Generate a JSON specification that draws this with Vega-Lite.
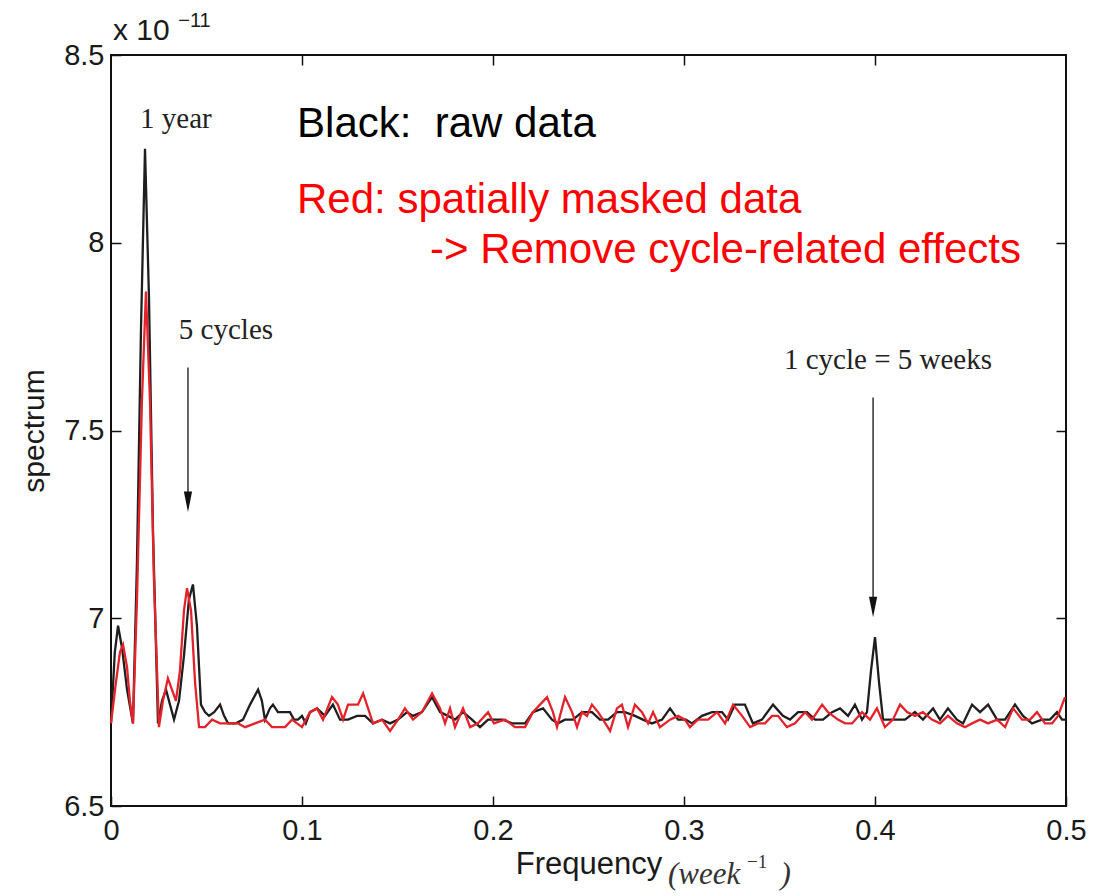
{
  "$schema": "https://vega.github.io/schema/vega-lite/v6.json",
  "width": 955,
  "height": 751,
  "autosize": {"type": "none"},
  "padding": {"left": 111, "top": 55, "right": 42, "bottom": 90},
  "background": "white",
  "config": {
    "view": {"stroke": "#111111", "strokeWidth": 2},
    "axis": {
      "grid": false,
      "domain": false,
      "tickColor": "#111111",
      "tickWidth": 1.5,
      "tickSize": -10,
      "labelFont": "Liberation Sans",
      "labelFontSize": 29,
      "labelColor": "#1a1a1a",
      "labelFlush": false,
      "labelOverlap": false,
      "titleFont": "Liberation Sans",
      "titleFontWeight": "normal",
      "titleColor": "#1a1a1a"
    }
  },
  "datasets": {
    "raw": [
      {"f":0,"s":6.72},{"f":0.002,"s":6.91},{"f":0.0037,"s":6.98},{"f":0.0058,"s":6.92},{"f":0.0084,"s":6.81},{"f":0.0115,"s":6.72},{"f":0.0136,"s":7.15},{"f":0.0157,"s":7.77},{"f":0.0178,"s":8.25},{"f":0.0199,"s":7.85},{"f":0.022,"s":7.23},{"f":0.0246,"s":6.72},{"f":0.0267,"s":6.78},{"f":0.0288,"s":6.81},{"f":0.0309,"s":6.77},{"f":0.033,"s":6.73},{"f":0.0356,"s":6.78},{"f":0.0382,"s":6.9},{"f":0.0408,"s":7.05},{"f":0.0429,"s":7.09},{"f":0.045,"s":6.98},{"f":0.0471,"s":6.77},{"f":0.0492,"s":6.75},{"f":0.0513,"s":6.74},{"f":0.054,"s":6.75},{"f":0.0571,"s":6.77},{"f":0.0592,"s":6.74},{"f":0.0613,"s":6.72},{"f":0.0654,"s":6.72},{"f":0.0691,"s":6.73},{"f":0.0728,"s":6.77},{"f":0.0749,"s":6.79},{"f":0.077,"s":6.81},{"f":0.079,"s":6.78},{"f":0.0806,"s":6.73},{"f":0.0832,"s":6.76},{"f":0.0848,"s":6.77},{"f":0.0874,"s":6.75},{"f":0.0906,"s":6.75},{"f":0.0937,"s":6.75},{"f":0.0958,"s":6.73},{"f":0.0979,"s":6.73},{"f":0.1,"s":6.74},{"f":0.102,"s":6.72},{"f":0.1042,"s":6.75},{"f":0.1079,"s":6.76},{"f":0.112,"s":6.74},{"f":0.1162,"s":6.77},{"f":0.1199,"s":6.73},{"f":0.1241,"s":6.73},{"f":0.1288,"s":6.74},{"f":0.133,"s":6.74},{"f":0.1372,"s":6.72},{"f":0.1419,"s":6.73},{"f":0.1461,"s":6.72},{"f":0.1503,"s":6.73},{"f":0.155,"s":6.75},{"f":0.1581,"s":6.74},{"f":0.1628,"s":6.75},{"f":0.1681,"s":6.79},{"f":0.1723,"s":6.75},{"f":0.1764,"s":6.74},{"f":0.1801,"s":6.73},{"f":0.1843,"s":6.75},{"f":0.189,"s":6.73},{"f":0.1932,"s":6.71},{"f":0.1974,"s":6.73},{"f":0.201,"s":6.73},{"f":0.2052,"s":6.73},{"f":0.21,"s":6.72},{"f":0.2168,"s":6.72},{"f":0.2209,"s":6.75},{"f":0.2262,"s":6.76},{"f":0.2309,"s":6.73},{"f":0.234,"s":6.72},{"f":0.2377,"s":6.73},{"f":0.2419,"s":6.73},{"f":0.2466,"s":6.75},{"f":0.2518,"s":6.75},{"f":0.256,"s":6.73},{"f":0.2602,"s":6.73},{"f":0.2649,"s":6.75},{"f":0.2691,"s":6.75},{"f":0.2743,"s":6.74},{"f":0.2785,"s":6.73},{"f":0.2832,"s":6.72},{"f":0.2885,"s":6.73},{"f":0.2927,"s":6.76},{"f":0.2969,"s":6.73},{"f":0.301,"s":6.73},{"f":0.3042,"s":6.72},{"f":0.3094,"s":6.74},{"f":0.3147,"s":6.75},{"f":0.3199,"s":6.75},{"f":0.323,"s":6.73},{"f":0.3267,"s":6.77},{"f":0.3319,"s":6.77},{"f":0.3361,"s":6.72},{"f":0.3408,"s":6.73},{"f":0.3466,"s":6.77},{"f":0.3518,"s":6.74},{"f":0.3555,"s":6.73},{"f":0.3597,"s":6.75},{"f":0.3644,"s":6.75},{"f":0.3686,"s":6.73},{"f":0.3728,"s":6.73},{"f":0.3775,"s":6.75},{"f":0.3817,"s":6.76},{"f":0.3859,"s":6.74},{"f":0.3895,"s":6.77},{"f":0.3932,"s":6.73},{"f":0.3958,"s":6.75},{"f":0.3979,"s":6.86},{"f":0.4,"s":6.95},{"f":0.4021,"s":6.83},{"f":0.4042,"s":6.73},{"f":0.4105,"s":6.73},{"f":0.4157,"s":6.73},{"f":0.4209,"s":6.75},{"f":0.4251,"s":6.73},{"f":0.4304,"s":6.76},{"f":0.434,"s":6.73},{"f":0.4382,"s":6.76},{"f":0.4429,"s":6.73},{"f":0.4461,"s":6.72},{"f":0.4508,"s":6.77},{"f":0.455,"s":6.75},{"f":0.4592,"s":6.77},{"f":0.4639,"s":6.73},{"f":0.4681,"s":6.73},{"f":0.4733,"s":6.77},{"f":0.4775,"s":6.74},{"f":0.4822,"s":6.72},{"f":0.4874,"s":6.73},{"f":0.4916,"s":6.73},{"f":0.4953,"s":6.75},{"f":0.4979,"s":6.73},{"f":0.5,"s":6.73}
    ],
    "masked": [
      {"f":0,"s":6.72},{"f":0.0026,"s":6.83},{"f":0.0047,"s":6.91},{"f":0.0063,"s":6.93},{"f":0.0084,"s":6.87},{"f":0.0099,"s":6.78},{"f":0.0115,"s":6.72},{"f":0.0136,"s":7.05},{"f":0.0162,"s":7.58},{"f":0.0183,"s":7.87},{"f":0.0204,"s":7.58},{"f":0.0225,"s":7.1},{"f":0.0251,"s":6.71},{"f":0.0272,"s":6.78},{"f":0.0298,"s":6.84},{"f":0.0319,"s":6.81},{"f":0.034,"s":6.78},{"f":0.0361,"s":6.86},{"f":0.0382,"s":7.02},{"f":0.0398,"s":7.08},{"f":0.0419,"s":7.02},{"f":0.044,"s":6.83},{"f":0.0461,"s":6.71},{"f":0.0492,"s":6.71},{"f":0.0529,"s":6.73},{"f":0.0571,"s":6.72},{"f":0.0623,"s":6.72},{"f":0.0665,"s":6.72},{"f":0.0702,"s":6.71},{"f":0.0754,"s":6.72},{"f":0.0806,"s":6.73},{"f":0.0843,"s":6.71},{"f":0.0911,"s":6.71},{"f":0.0948,"s":6.73},{"f":0.0974,"s":6.72},{"f":0.1,"s":6.71},{"f":0.1042,"s":6.75},{"f":0.1079,"s":6.76},{"f":0.111,"s":6.73},{"f":0.1157,"s":6.79},{"f":0.1188,"s":6.77},{"f":0.1215,"s":6.73},{"f":0.1241,"s":6.77},{"f":0.1267,"s":6.77},{"f":0.1293,"s":6.77},{"f":0.132,"s":6.8},{"f":0.1346,"s":6.76},{"f":0.1372,"s":6.72},{"f":0.1419,"s":6.73},{"f":0.1461,"s":6.7},{"f":0.1503,"s":6.73},{"f":0.1539,"s":6.76},{"f":0.1581,"s":6.73},{"f":0.1628,"s":6.75},{"f":0.1681,"s":6.8},{"f":0.1723,"s":6.76},{"f":0.1749,"s":6.72},{"f":0.1775,"s":6.76},{"f":0.1801,"s":6.71},{"f":0.1843,"s":6.76},{"f":0.188,"s":6.71},{"f":0.1921,"s":6.72},{"f":0.1974,"s":6.75},{"f":0.2005,"s":6.72},{"f":0.2063,"s":6.73},{"f":0.2115,"s":6.71},{"f":0.2168,"s":6.71},{"f":0.2209,"s":6.75},{"f":0.2246,"s":6.77},{"f":0.2283,"s":6.79},{"f":0.2314,"s":6.75},{"f":0.2335,"s":6.71},{"f":0.2377,"s":6.79},{"f":0.2414,"s":6.75},{"f":0.244,"s":6.71},{"f":0.2466,"s":6.75},{"f":0.2492,"s":6.74},{"f":0.2518,"s":6.77},{"f":0.255,"s":6.75},{"f":0.2576,"s":6.73},{"f":0.2613,"s":6.7},{"f":0.2649,"s":6.76},{"f":0.2675,"s":6.77},{"f":0.2707,"s":6.71},{"f":0.2743,"s":6.77},{"f":0.278,"s":6.75},{"f":0.2812,"s":6.72},{"f":0.2838,"s":6.75},{"f":0.2874,"s":6.71},{"f":0.2927,"s":6.73},{"f":0.2969,"s":6.74},{"f":0.3005,"s":6.73},{"f":0.3031,"s":6.71},{"f":0.3073,"s":6.73},{"f":0.3126,"s":6.73},{"f":0.3173,"s":6.75},{"f":0.3215,"s":6.72},{"f":0.3257,"s":6.77},{"f":0.3304,"s":6.74},{"f":0.3346,"s":6.71},{"f":0.3387,"s":6.72},{"f":0.3424,"s":6.72},{"f":0.3461,"s":6.74},{"f":0.3492,"s":6.74},{"f":0.3539,"s":6.71},{"f":0.3581,"s":6.72},{"f":0.3634,"s":6.75},{"f":0.367,"s":6.73},{"f":0.3723,"s":6.77},{"f":0.3754,"s":6.75},{"f":0.3806,"s":6.73},{"f":0.3843,"s":6.72},{"f":0.388,"s":6.72},{"f":0.3932,"s":6.75},{"f":0.3974,"s":6.73},{"f":0.401,"s":6.76},{"f":0.4052,"s":6.71},{"f":0.4094,"s":6.73},{"f":0.4131,"s":6.77},{"f":0.4168,"s":6.75},{"f":0.4209,"s":6.74},{"f":0.4251,"s":6.75},{"f":0.4298,"s":6.73},{"f":0.434,"s":6.72},{"f":0.4382,"s":6.74},{"f":0.4429,"s":6.72},{"f":0.4471,"s":6.71},{"f":0.4508,"s":6.72},{"f":0.455,"s":6.73},{"f":0.4592,"s":6.72},{"f":0.4639,"s":6.73},{"f":0.4681,"s":6.71},{"f":0.4723,"s":6.76},{"f":0.477,"s":6.73},{"f":0.4812,"s":6.73},{"f":0.4848,"s":6.75},{"f":0.489,"s":6.72},{"f":0.4927,"s":6.72},{"f":0.4958,"s":6.74},{"f":0.4995,"s":6.79}
    ],
    "arrows": [
      {"f":0.0403,"s":7.668,"s2":7.32},
      {"f":0.399,"s":7.588,"s2":7.05}
    ],
    "heads": [
      {"f":0.0403,"s":7.31},
      {"f":0.399,"s":7.03}
    ],
    "serif_notes": [
      {"f":0.034,"s":8.305,"label":"1 year"},
      {"f":0.0602,"s":7.745,"label":"5 cycles"},
      {"f":0.4068,"s":7.665,"label":"1 cycle = 5 weeks"}
    ],
    "black_note": [
      {"f":0.0974,"s":8.281,"label":"Black:\u00a0 raw data"}
    ],
    "red_notes": [
      {"f":0.0974,"s":8.079,"label":"Red: spatially masked data"},
      {"f":0.167,"s":7.945,"label":"-> Remove cycle-related effects"}
    ],
    "unit_main": [
      {"f":0.2916,"s":6.292,"label":"(week"},
      {"f":0.3505,"s":6.292,"label":")"}
    ],
    "unit_sup": [
      {"f":0.333,"s":6.335,"label":"−1"}
    ],
    "exp_main": [
      {"f":0.001,"s":8.54,"label":"x 10"}
    ],
    "exp_sup": [
      {"f":0.0352,"s":8.575,"label":"−11"}
    ]
  },
  "layer": [
    {
      "encoding": {
        "x": {"field": "f", "type": "quantitative",
              "scale": {"domain": [0, 0.5], "nice": false, "zero": false},
              "axis": {"orient": "bottom", "values": [0, 0.1, 0.2, 0.3, 0.4, 0.5], "format": "~g",
                       "labelPadding": 20, "title": "Frequency", "titleFontSize": 31, "titlePadding": 4}},
        "y": {"field": "s", "type": "quantitative",
              "scale": {"domain": [6.5, 8.5], "nice": false, "zero": false},
              "axis": {"orient": "left", "values": [6.5, 7, 7.5, 8, 8.5], "format": "~g",
                       "labelPadding": 17, "title": "spectrum", "titleFontSize": 30, "titlePadding": 14}}
      },
      "layer": [
        {"data": {"name": "raw"}, "mark": {"type": "line", "color": "#1e1e1e", "strokeWidth": 2.3}},
        {"data": {"name": "masked"}, "mark": {"type": "line", "color": "#e3232b", "strokeWidth": 2.3}}
      ]
    },
    {
      "encoding": {
        "x": {"field": "f", "type": "quantitative",
              "scale": {"domain": [0, 0.5], "nice": false, "zero": false},
              "axis": {"orient": "top", "values": [0.1, 0.2, 0.3, 0.4], "labels": false, "title": null}},
        "y": {"field": "s", "type": "quantitative",
              "scale": {"domain": [6.5, 8.5], "nice": false, "zero": false},
              "axis": {"orient": "right", "values": [7, 7.5, 8], "labels": false, "title": null}}
      },
      "layer": [
        {"data": {"name": "arrows"}, "mark": {"type": "rule", "color": "#333333", "strokeWidth": 1.5},
         "encoding": {"y2": {"field": "s2"}}},
        {"data": {"name": "heads"}, "mark": {"type": "point", "shape": "M-0.4,-1L0.4,-1L0,1Z", "filled": true, "color": "#111111", "size": 420, "opacity": 1}},
        {"data": {"name": "serif_notes"}, "mark": {"type": "text", "font": "Liberation Serif", "fontSize": 29, "color": "#222222", "align": "center", "baseline": "alphabetic"},
         "encoding": {"text": {"field": "label"}}},
        {"data": {"name": "black_note"}, "mark": {"type": "text", "font": "Liberation Sans", "fontSize": 42, "color": "#000000", "align": "left", "baseline": "alphabetic"},
         "encoding": {"text": {"field": "label"}}},
        {"data": {"name": "red_notes"}, "mark": {"type": "text", "font": "Liberation Sans", "fontSize": 42, "color": "#ff0000", "align": "left", "baseline": "alphabetic"},
         "encoding": {"text": {"field": "label"}}},
        {"data": {"name": "unit_main"}, "mark": {"type": "text", "font": "Liberation Serif", "fontStyle": "italic", "fontSize": 31, "color": "#333333", "align": "left", "baseline": "alphabetic"},
         "encoding": {"text": {"field": "label"}}},
        {"data": {"name": "unit_sup"}, "mark": {"type": "text", "font": "Liberation Serif", "fontSize": 19, "color": "#333333", "align": "left", "baseline": "alphabetic"},
         "encoding": {"text": {"field": "label"}}},
        {"data": {"name": "exp_main"}, "mark": {"type": "text", "font": "Liberation Sans", "fontSize": 30, "color": "#1a1a1a", "align": "left", "baseline": "alphabetic"},
         "encoding": {"text": {"field": "label"}}},
        {"data": {"name": "exp_sup"}, "mark": {"type": "text", "font": "Liberation Sans", "fontSize": 20, "color": "#1a1a1a", "align": "left", "baseline": "alphabetic"},
         "encoding": {"text": {"field": "label"}}}
      ]
    }
  ],
  "resolve": {"axis": {"x": "independent", "y": "independent"}}
}
